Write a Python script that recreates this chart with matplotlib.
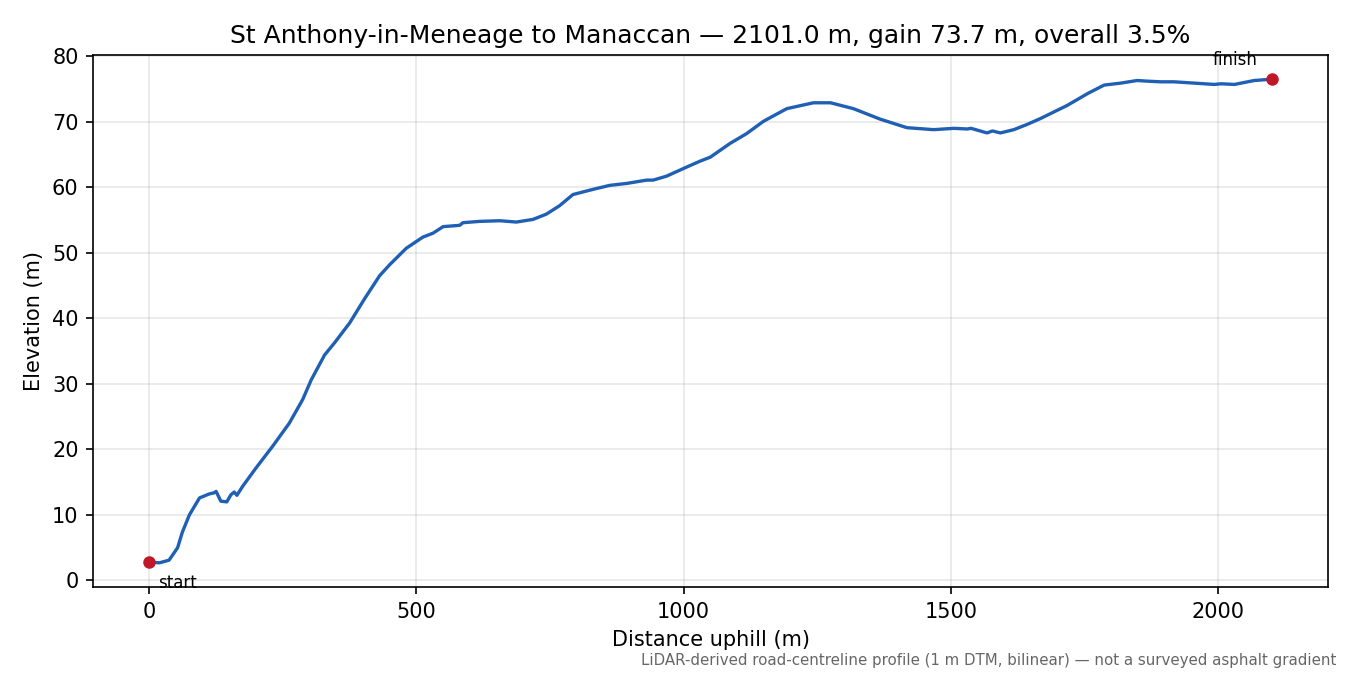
import matplotlib
matplotlib.use("Agg")
import matplotlib.pyplot as plt

# profile (distance uphill in m, elevation in m)
distance = [0, 19, 37, 53, 62, 75, 94, 112, 122, 125, 134, 145, 153, 159, 164,
            175, 200, 231, 262, 287, 303, 328, 347, 375, 403, 431, 450, 481,
            512, 531, 550, 581, 587, 618, 656, 687, 718, 743, 768, 790, 793,
            831, 862, 894, 931, 943, 968, 1006, 1031, 1050, 1087, 1118, 1150,
            1193, 1243, 1275, 1318, 1368, 1418, 1468, 1506, 1531, 1538, 1568,
            1578, 1593, 1618, 1643, 1668, 1718, 1756, 1787, 1818, 1849, 1868,
            1893, 1918, 1956, 1993, 2006, 2031, 2068, 2101]
elevation = [2.8, 2.7, 3.1, 5.0, 7.4, 10.0, 12.6, 13.2, 13.4, 13.6, 12.1, 12.0,
             13.1, 13.5, 13.0, 14.4, 17.2, 20.5, 24.0, 27.6, 30.6, 34.4, 36.3,
             39.3, 43.0, 46.5, 48.2, 50.7, 52.4, 53.0, 54.0, 54.2, 54.6, 54.8,
             54.9, 54.7, 55.1, 55.9, 57.2, 58.7, 58.9, 59.7, 60.3, 60.6, 61.1,
             61.1, 61.7, 63.1, 64.0, 64.6, 66.7, 68.2, 70.1, 72.0, 72.9, 72.9,
             72.0, 70.4, 69.1, 68.8, 69.0, 68.9, 69.0, 68.3, 68.6, 68.3, 68.8,
             69.6, 70.5, 72.5, 74.3, 75.6, 75.9, 76.3, 76.2, 76.1, 76.1, 75.9,
             75.7, 75.8, 75.7, 76.3, 76.5]

route = "St Anthony-in-Meneage to Manaccan"
length = 2101.0
gain = elevation[-1] - elevation[0]
grade = gain / length * 100

fig, ax = plt.subplots(figsize=(9, 4.5), dpi=150)
fig.subplots_adjust(left=0.069, right=0.9837, top=0.9185, bottom=0.1304)

ax.plot(distance, elevation, color="#1f5fb4", lw=1.6)
ax.plot([distance[0], distance[-1]], [elevation[0], elevation[-1]], "o",
        color="#c0182a", ms=5, zorder=3)
ax.annotate("start", (distance[0], elevation[0]), xytext=(4, -10),
            textcoords="offset points", fontsize=8, ha="left", va="center")
ax.annotate("finish", (distance[-1], elevation[-1]), xytext=(-7, 9),
            textcoords="offset points", fontsize=8, ha="right", va="center")

ax.set_title(f"{route} \u2014 {length:.1f} m, gain {gain:.1f} m, overall {grade:.1f}%")
ax.set_xlabel("Distance uphill (m)")
ax.set_ylabel("Elevation (m)")
ax.grid(True, alpha=0.3)

fig.text(0.99, 0.022, "LiDAR-derived road-centreline profile (1 m DTM, bilinear) "
         "\u2014 not a surveyed asphalt gradient", ha="right", va="center",
         fontsize=7.2, color="#666666")

fig.savefig("out.png")
